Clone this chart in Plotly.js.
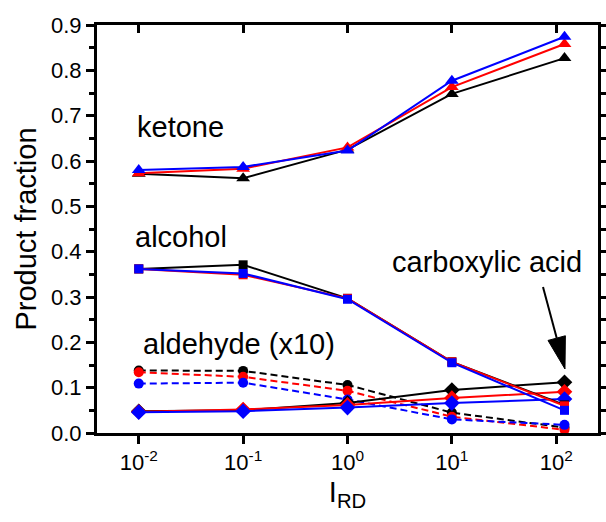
<!DOCTYPE html>
<html>
<head>
<meta charset="utf-8">
<script src="https://cdn.plot.ly/plotly-3.0.1.min.js"></script>
<style>html,body{margin:0;padding:0;background:#fff;}#chart{width:606px;height:522px;}</style>
</head>
<body>
<div id="chart"></div>
<script>
// ---- data ----
var xValues = [0.01, 0.1, 1, 10, 120];
var tickValues = [0.01, 0.1, 1, 10, 100];
var tickLabels = ['10<sup>-2</sup>', '10<sup>-1</sup>', '10<sup>0</sup>', '10<sup>1</sup>', '10<sup>2</sup>'];

var ketoneBlack = [0.572, 0.562, 0.625, 0.748, 0.827];
var ketoneRed   = [0.573, 0.583, 0.630, 0.763, 0.858];
var ketoneBlue  = [0.580, 0.587, 0.623, 0.777, 0.874];

var alcoholBlack = [0.362, 0.371, 0.297, 0.157, 0.062];
var alcoholRed   = [0.362, 0.349, 0.297, 0.157, 0.060];
var alcoholBlue  = [0.362, 0.352, 0.295, 0.155, 0.050];

var acidBlack = [0.048, 0.050, 0.066, 0.095, 0.112];
var acidRed   = [0.047, 0.052, 0.062, 0.077, 0.091];
var acidBlue  = [0.046, 0.048, 0.056, 0.066, 0.075];

var aldehydeBlack = [0.138, 0.137, 0.106, 0.045, 0.012];
var aldehydeRed   = [0.134, 0.124, 0.093, 0.036, 0.007];
var aldehydeBlue  = [0.109, 0.111, 0.074, 0.030, 0.018];

var seriesColors = ['#000000', '#ff0000', '#0000ff'];

// ---- layout constants ----
var W = 606, H = 522;
var M = {l: 97, r: 8, t: 25, b: 89};
var PW = W - M.l - M.r, PH = H - M.t - M.b;
function px(x) { return (x - M.l) / PW; }
function py(y) { return (H - M.b - y) / PH; }
var FONT = 'Liberation Sans, Arial, sans-serif';

function mk(y, color, symbol, size, dash) {
  return {
    x: xValues, y: y, type: 'scatter', mode: 'lines+markers',
    line: {color: color, width: 2, dash: dash || 'solid'},
    marker: {color: color, symbol: symbol, size: size, line: {width: 0}},
    showlegend: false, hoverinfo: 'skip'
  };
}

var groups = [
  {vals: [aldehydeBlack, aldehydeRed, aldehydeBlue], sym: 'circle', size: 10, dash: '7px,4px'},
  {vals: [acidBlack, acidRed, acidBlue], sym: 'diamond', size: 12},
  {vals: [alcoholBlack, alcoholRed, alcoholBlue], sym: 'square', size: 9},
  {vals: [ketoneBlack, ketoneRed, ketoneBlue], sym: 'triangle-up', size: 12}
];
var traces = [];
groups.forEach(function (g) {
  g.vals.forEach(function (v, i) {
    traces.push(mk(v, seriesColors[i], g.sym, g.size, g.dash));
  });
});
// empty trace to carry the top axis
traces.push({x: [], y: [], xaxis: 'x2', type: 'scatter', showlegend: false});

// arrow geometry (pixel positions of annotation arrow)
var tail = [543, 287], tip = [565, 369];
var dx = tip[0] - tail[0], dy = tip[1] - tail[1];
var len = Math.sqrt(dx * dx + dy * dy);
var ux = dx / len, uy = dy / len;
var headLen = 32, headHalf = 9;
var base = [tip[0] - ux * headLen, tip[1] - uy * headLen];
var c1 = [base[0] - uy * headHalf, base[1] + ux * headHalf];
var c2 = [base[0] + uy * headHalf, base[1] - ux * headHalf];
function P(p) { return px(p[0]).toFixed(4) + ',' + py(p[1]).toFixed(4); }

var annFont = {family: FONT, size: 29, color: '#000'};
function ann(text, x, y) {
  return {text: text, xref: 'paper', yref: 'paper', x: px(x), y: py(y),
          xanchor: 'center', yanchor: 'middle', showarrow: false, font: annFont};
}

var axisCommon = {
  type: 'log', range: [-2.4, 2.4], tickmode: 'array', tickvals: tickValues,
  showgrid: false, zeroline: false, ticklen: 8, tickwidth: 3, tickcolor: '#000'
};

var layout = {
  width: W, height: H, margin: M,
  paper_bgcolor: '#fff', plot_bgcolor: '#fff',
  font: {family: FONT, color: '#000'},
  xaxis: Object.assign({}, axisCommon, {
    ticktext: tickLabels, ticks: 'outside',
    showline: true, linewidth: 3, linecolor: '#000', mirror: true,
    tickfont: {family: FONT, size: 22, color: '#000'},
    title: {text: 'I<sub>RD</sub>', font: {family: FONT, size: 29, color: '#000'}, standoff: 8}
  }),
  xaxis2: Object.assign({}, axisCommon, {
    overlaying: 'x', side: 'top', anchor: 'y', ticks: 'inside',
    showticklabels: false, showline: false
  }),
  yaxis: {
    range: [0, 0.9], dtick: 0.1, tick0: 0, tickformat: '.1f',
    ticks: 'outside', ticklen: 8, tickwidth: 3, tickcolor: '#000',
    minor: {ticks: 'outside', dtick: 0.05, tick0: 0, ticklen: 5, tickwidth: 3, tickcolor: '#000'},
    showline: true, linewidth: 3, linecolor: '#000', mirror: 'ticks',
    showgrid: false, zeroline: false,
    tickfont: {family: FONT, size: 22, color: '#000'},
    title: {text: 'Product fraction', font: {family: FONT, size: 29, color: '#000'}, standoff: 6}
  },
  annotations: [
    ann('ketone', 180, 127),
    ann('alcohol', 181, 237),
    ann('aldehyde (x10)', 239, 344),
    ann('carboxylic acid', 487, 262)
  ],
  shapes: [
    {type: 'line', xref: 'paper', yref: 'paper',
     x0: px(tail[0]), y0: py(tail[1]), x1: px(base[0]), y1: py(base[1]),
     line: {color: '#000', width: 2}},
    {type: 'path', xref: 'paper', yref: 'paper',
     path: 'M' + P(tip) + 'L' + P(c1) + 'L' + P(c2) + 'Z',
     fillcolor: '#000', line: {color: '#000', width: 1}}
  ]
};

Plotly.newPlot('chart', traces, layout, {staticPlot: true, displayModeBar: false});
</script>
</body>
</html>
